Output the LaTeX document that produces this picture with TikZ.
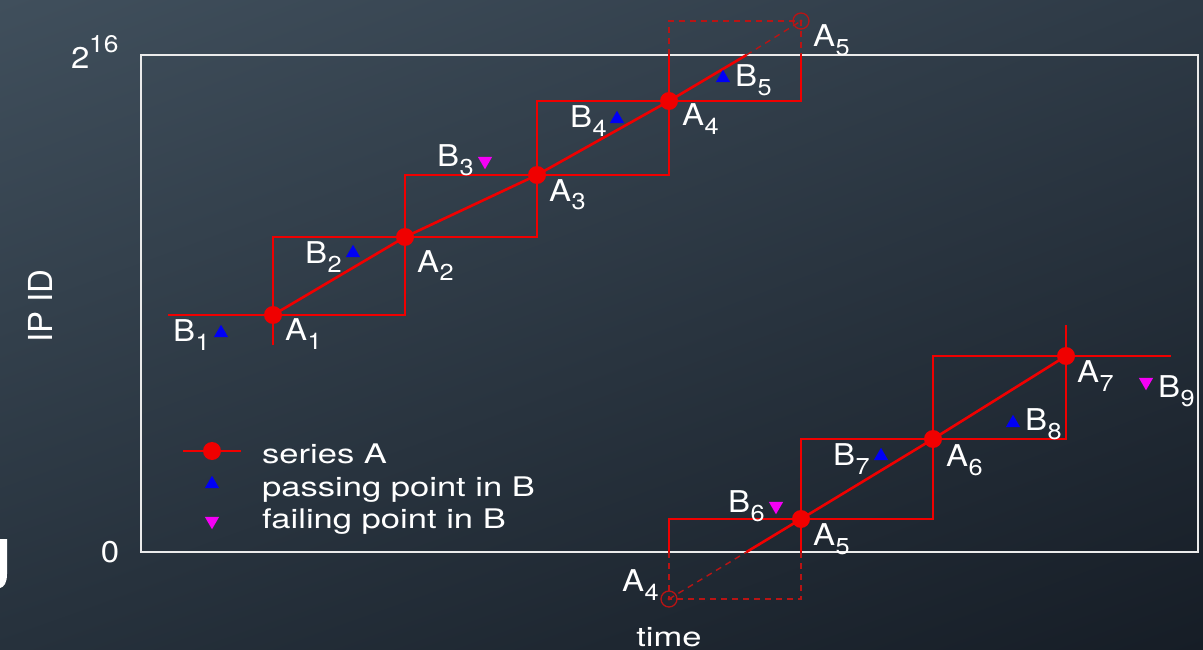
\documentclass[tikz,border=0pt]{standalone}
\usepackage{fontspec}
\setmainfont{TeX Gyre Heros}[FakeStretch=1.1]
\newfontfamily\legfont{TeX Gyre Heros}[FakeStretch=1.28]
\newfontfamily\plainfont{TeX Gyre Heros}
\usetikzlibrary{shapes.geometric,shadings}
\definecolor{bgTL}{RGB}{64,79,92}
\definecolor{bgTR}{RGB}{46,58,70}
\definecolor{bgBL}{RGB}{38,49,60}
\definecolor{bgBR}{RGB}{22,29,38}
\definecolor{serred}{RGB}{240,0,0}
\definecolor{ghostred}{RGB}{185,20,20}
\definecolor{passblue}{RGB}{0,0,245}
\definecolor{failmag}{RGB}{245,0,245}
\newcommand\sub[1]{\kern0.5pt\raisebox{-9pt}{\fontsize{23}{23}\selectfont #1}}
\begin{document}
\begin{tikzpicture}[x=1pt,y=-1pt,
  serline/.style={draw=serred,line width=2.6pt},
  ghostline/.style={draw=ghostred,line width=1.4pt,dash pattern=on 6pt off 5pt},
  frameline/.style={draw=white!92!black,line width=2.2pt},
  adot/.style={circle,fill=serred,minimum size=18pt,inner sep=0pt},
  ghost/.style={circle,draw=ghostred,line width=1.3pt,minimum size=16pt,inner sep=0pt},
  passtri/.style={regular polygon,regular polygon sides=3,fill=passblue,minimum size=16.5pt,inner sep=0pt},
  failtri/.style={regular polygon,regular polygon sides=3,shape border rotate=180,fill=failmag,minimum size=16.5pt,inner sep=0pt},
  lbl/.style={text=white,anchor=base west,inner sep=0pt,font=\fontsize{30}{30}\selectfont},
  legtext/.style={text=white,anchor=base west,inner sep=0pt,font=\legfont\fontsize{27}{27}\selectfont}]
\shade[upper left=bgTL,upper right=bgTR,lower left=bgBL,lower right=bgBR] (0,0) rectangle (1203,650);
\useasboundingbox (0,0) rectangle (1203,650);
% partial glyph at left edge
\fill[white] (0,539) -- (7,539) -- (7,574) .. controls (7,583) and (4,587) .. (0,588) -- cycle;
% frame
\draw[frameline] (141,55) rectangle (1198,552);
% axis labels
\node[lbl] (two) at (71,69) {2};
\node[lbl,font=\fontsize{24}{24}\selectfont] (sixteen) at (89,53) {16};
\node[text=white,inner sep=0pt,font=\fontsize{30}{30}\selectfont] (zero) at (110,552) {0};
\node[text=white,inner sep=0pt,rotate=90,font=\plainfont\fontsize{33}{33}\selectfont] (ipid) at (40,306) {IP ID};
\node[legtext,anchor=base] (time) at (669,646) {time};
% coordinates
\coordinate (A1) at (273,315);
\coordinate (A2) at (405,237);
\coordinate (A3) at (537,175);
\coordinate (A4) at (669,101);
\coordinate (A5g) at (801,21);
\coordinate (A5) at (801,519);
\coordinate (A6) at (933,439);
\coordinate (A7) at (1066,356);
\coordinate (A4g) at (669,599);
\coordinate (L1) at (168,315);
\coordinate (D1) at (273,345);
\coordinate (R2) at (405,315);
\coordinate (T1) at (273,237);
\coordinate (R3) at (537,237);
\coordinate (B2) at (405,175);
\coordinate (R4) at (669,175);
\coordinate (B3) at (537,101);
\coordinate (R5) at (801,101);
\coordinate (F4) at (669,55);
\coordinate (F5) at (801,55);
\coordinate (G4) at (669,21);
\coordinate (Xt) at (746.5,55);
\coordinate (Xb) at (746.5,552);
\coordinate (E4) at (669,552);
\coordinate (E5) at (801,552);
\coordinate (H5) at (801,599);
\coordinate (S4) at (669,519);
\coordinate (S6) at (933,519);
\coordinate (U5) at (801,439);
\coordinate (U7) at (1066,439);
\coordinate (V6) at (933,356);
\coordinate (V7) at (1171,356);
\coordinate (W7) at (1066,325);
% staircase (top)
\draw[serline] (L1) -- (R2) -- (A2);
\draw[serline] (D1) -- (T1) -- (R3) -- (A3);
\draw[serline] (A2) -- (B2) -- (R4) -- (A4);
\draw[serline] (A3) -- (B3) -- (R5) -- (F5);
\draw[serline] (A4) -- (R4);
\draw[serline] (F4) -- (A4);
\draw[ghostline] (F4) -- (G4) -- (A5g) -- (F5);
% staircase (bottom)
\draw[serline] (E4) -- (S4) -- (S6) -- (A6);
\draw[serline] (E5) -- (U5) -- (U7) -- (A7);
\draw[serline] (S6) -- (V6) -- (V7);
\draw[serline] (W7) -- (U7);
\draw[ghostline] (E4) -- (A4g) -- (H5) -- (E5);
% diagonals
\draw[serline] (A1) -- (A2) -- (A3) -- (A4) -- (Xt);
\draw[ghostline] (Xt) -- (A5g);
\draw[ghostline] (A4g) -- (Xb);
\draw[serline] (Xb) -- (A5) -- (A6) -- (A7);
% A points
\foreach \p in {A1,A2,A3,A4,A5,A6,A7} \node[adot] (n\p) at (\p) {};
\node[ghost] (gA5) at (A5g) {};
\node[ghost] (gA4) at (A4g) {};
\fill[ghostred] (A5g) circle (1.6pt);
\fill[ghostred] (A4g) circle (1.6pt);
% B markers
\node[passtri] (b1) at (221,333) {};
\node[passtri] (b2) at (353,253) {};
\node[failtri] (b3) at (485,161) {};
\node[passtri] (b4) at (617,119) {};
\node[passtri] (b5) at (723,78) {};
\node[failtri] (b6) at (776,506) {};
\node[passtri] (b7) at (881,456) {};
\node[passtri] (b8) at (1013,423) {};
\node[failtri] (b9) at (1146,382) {};
% labels
\node[lbl] (lA1) at (285,340) {A\sub{1}};
\node[lbl] (lB1) at (173,341) {B\sub{1}};
\node[lbl] (lA2) at (417,272) {A\sub{2}};
\node[lbl] (lB2) at (305,263) {B\sub{2}};
\node[lbl] (lA3) at (549,201) {A\sub{3}};
\node[lbl] (lB3) at (437,167) {B\sub{3}};
\node[lbl] (lB4) at (570,128) {B\sub{4}};
\node[lbl] (lA4) at (682,126) {A\sub{4}};
\node[lbl] (lB5) at (735,87) {B\sub{5}};
\node[lbl] (lA5t) at (813,47) {A\sub{5}};
\node[lbl] (lA5) at (813,545) {A\sub{5}};
\node[lbl] (lB6) at (728,512) {B\sub{6}};
\node[lbl] (lA4b) at (622,591) {A\sub{4}};
\node[lbl] (lA6) at (946,466) {A\sub{6}};
\node[lbl] (lB7) at (833,465) {B\sub{7}};
\node[lbl] (lA7) at (1077,382) {A\sub{7}};
\node[lbl] (lB8) at (1025,430) {B\sub{8}};
\node[lbl] (lB9) at (1158,397) {B\sub{9}};
% legend
\coordinate (legL) at (183,451);
\coordinate (legR) at (241,451);
\draw[serline] (legL) -- (legR);
\node[adot] (legA) at (212,451) {};
\node[passtri] (legP) at (212,484) {};
\node[failtri] (legF) at (212,521) {};
\node[legtext] (tA) at (262,463) {series A};
\node[legtext] (tP) at (262,496) {passing point in B};
\node[legtext] (tF) at (262,528) {failing point in B};
\end{tikzpicture}
\end{document}
